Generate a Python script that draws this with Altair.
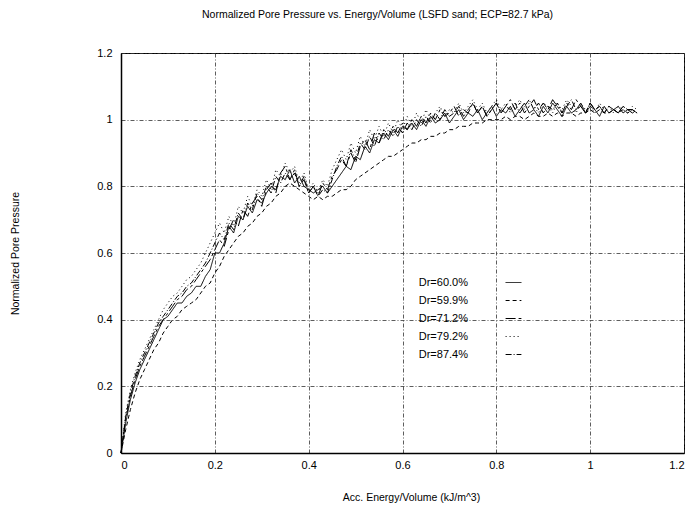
import altair as alt
import pandas as pd

X = [0.00, 0.01, 0.02, 0.03, 0.04, 0.05, 0.06, 0.07, 0.08, 0.09,
     0.10, 0.11, 0.12, 0.13, 0.14, 0.15, 0.16, 0.17, 0.18, 0.19,
     0.20, 0.21, 0.22, 0.23, 0.24, 0.25, 0.26, 0.27, 0.28, 0.29,
     0.30, 0.31, 0.32, 0.33, 0.34, 0.35, 0.36, 0.37, 0.38, 0.39,
     0.40, 0.41, 0.42, 0.43, 0.44, 0.45, 0.46, 0.47, 0.48, 0.49,
     0.50, 0.51, 0.52, 0.53, 0.54, 0.55, 0.56, 0.57, 0.58, 0.59,
     0.60, 0.61, 0.62, 0.63, 0.64, 0.65, 0.66, 0.67, 0.68, 0.69,
     0.70, 0.71, 0.72, 0.73, 0.74, 0.75, 0.76, 0.77, 0.78, 0.79,
     0.80, 0.81, 0.82, 0.83, 0.84, 0.85, 0.86, 0.87, 0.88, 0.89,
     0.90, 0.91, 0.92, 0.93, 0.94, 0.95, 0.96, 0.97, 0.98, 0.99,
     1.00, 1.01, 1.02, 1.03, 1.04, 1.05, 1.06, 1.07, 1.08, 1.09, 1.10]

DR600 = [0, 0.09, 0.16, 0.21, 0.25, 0.28, 0.31, 0.34, 0.37, 0.40, 0.41,
         0.43, 0.45, 0.45, 0.47, 0.48, 0.50, 0.50, 0.53, 0.55, 0.60,
         0.60, 0.63, 0.68, 0.66, 0.71, 0.70, 0.74, 0.72, 0.76, 0.75,
         0.78, 0.80, 0.79, 0.83, 0.82, 0.85, 0.81, 0.83, 0.80, 0.79,
         0.78, 0.79, 0.80, 0.78, 0.80, 0.82, 0.84, 0.86, 0.85, 0.89,
         0.88, 0.92, 0.90, 0.94, 0.93, 0.96, 0.94, 0.97, 0.95, 0.98,
         0.97, 0.99, 0.97, 1.00, 0.98, 1.01, 0.99, 1.00, 1.02, 0.99,
         1.01, 1.03, 1.00, 1.02, 1.01, 1.03, 1.00, 1.02, 1.04, 1.01,
         1.03, 1.02, 1.04, 1.01, 1.03, 1.05, 1.02, 1.03, 1.01, 1.04,
         1.02, 1.05, 1.03, 1.01, 1.04, 1.02, 1.03, 1.05, 1.02, 1.04,
         1.03, 1.01, 1.04, 1.02, 1.03, 1.04, 1.02, 1.03, 1.03, 1.02]

DR599 = [0, 0.07, 0.13, 0.18, 0.22, 0.25, 0.28, 0.31, 0.33, 0.36, 0.38,
         0.40, 0.41, 0.43, 0.44, 0.45, 0.46, 0.48, 0.50, 0.51, 0.54,
         0.56, 0.59, 0.61, 0.63, 0.65, 0.66, 0.68, 0.69, 0.71, 0.72,
         0.74, 0.75, 0.77, 0.78, 0.80, 0.81, 0.80, 0.79, 0.78, 0.77,
         0.76, 0.77, 0.76, 0.77, 0.77, 0.78, 0.79, 0.79, 0.80, 0.82,
         0.83, 0.84, 0.85, 0.86, 0.87, 0.88, 0.89, 0.89, 0.90, 0.91,
         0.92, 0.93, 0.93, 0.94, 0.94, 0.95, 0.95, 0.96, 0.96, 0.97,
         0.97, 0.98, 0.98, 0.98, 0.99, 0.99, 0.99, 1.00, 1.00, 1.00,
         1.00, 1.01, 1.00, 1.01, 1.01, 1.00, 1.01, 1.02, 1.01, 1.01,
         1.02, 1.01, 1.02, 1.01, 1.02, 1.02, 1.01, 1.02, 1.02, 1.03,
         1.02, 1.03, 1.02, 1.02, 1.03, 1.02, 1.03, 1.02, 1.03, 1.02]

DR712 = [0, 0.10, 0.17, 0.22, 0.26, 0.29, 0.32, 0.35, 0.38, 0.40, 0.42,
         0.44, 0.46, 0.47, 0.49, 0.50, 0.52, 0.54, 0.56, 0.58, 0.61,
         0.64, 0.62, 0.67, 0.70, 0.68, 0.73, 0.71, 0.75, 0.77, 0.74,
         0.79, 0.81, 0.78, 0.84, 0.86, 0.82, 0.85, 0.80, 0.82, 0.78,
         0.80, 0.77, 0.81, 0.79, 0.83, 0.85, 0.88, 0.86, 0.90, 0.87,
         0.92, 0.94, 0.91, 0.96, 0.93, 0.97, 0.95, 0.98, 0.96, 0.99,
         0.97, 1.00, 0.98, 1.01, 0.99, 1.02, 1.00, 1.03, 1.01, 1.02,
         1.04, 1.01, 1.03, 1.02, 1.05, 1.02, 1.04, 1.01, 1.03, 1.05,
         1.02, 1.04, 1.06, 1.03, 1.05, 1.02, 1.04, 1.06, 1.03, 1.05,
         1.03, 1.06, 1.04, 1.02, 1.05, 1.03, 1.06, 1.04, 1.02, 1.05,
         1.03, 1.04, 1.02, 1.04, 1.03, 1.02, 1.04, 1.03, 1.02, 1.03]

DR792 = [0, 0.12, 0.19, 0.24, 0.28, 0.31, 0.34, 0.37, 0.40, 0.43, 0.45,
         0.47, 0.48, 0.50, 0.52, 0.53, 0.55, 0.57, 0.60, 0.63, 0.66,
         0.69, 0.66, 0.71, 0.68, 0.74, 0.72, 0.77, 0.74, 0.79, 0.77,
         0.82, 0.79, 0.85, 0.83, 0.87, 0.84, 0.86, 0.81, 0.84, 0.79,
         0.81, 0.78, 0.82, 0.80, 0.85, 0.88, 0.91, 0.88, 0.93, 0.90,
         0.95, 0.92, 0.97, 0.94, 0.98, 0.95, 0.99, 0.96, 1.00, 0.97,
         1.01, 0.98, 1.02, 0.99, 1.03, 1.00, 1.02, 1.04, 1.01, 1.03,
         1.02, 1.05, 1.02, 1.04, 1.06, 1.03, 1.05, 1.02, 1.04, 1.06,
         1.03, 1.05, 1.02, 1.04, 1.06, 1.03, 1.05, 1.04, 1.02, 1.05,
         1.04, 1.02, 1.05, 1.03, 1.06, 1.04, 1.02, 1.05, 1.03, 1.04,
         1.02, 1.05, 1.03, 1.04, 1.02, 1.04, 1.03, 1.02, 1.04, 1.03]

DR874 = [0, 0.11, 0.18, 0.23, 0.27, 0.30, 0.33, 0.36, 0.39, 0.41, 0.43,
         0.45, 0.47, 0.48, 0.50, 0.51, 0.53, 0.55, 0.57, 0.60, 0.63,
         0.66, 0.64, 0.69, 0.67, 0.72, 0.70, 0.75, 0.73, 0.78, 0.76,
         0.80, 0.78, 0.83, 0.81, 0.84, 0.82, 0.84, 0.80, 0.83, 0.78,
         0.80, 0.77, 0.79, 0.78, 0.82, 0.86, 0.89, 0.86, 0.91, 0.88,
         0.93, 0.91, 0.95, 0.92, 0.96, 0.94, 0.97, 0.95, 0.98, 0.96,
         0.99, 0.97, 1.00, 0.98, 1.01, 0.99, 1.02, 1.00, 1.03, 1.01,
         1.02, 1.04, 1.01, 1.03, 1.05, 1.02, 1.04, 1.01, 1.03, 1.05,
         1.02, 1.04, 1.03, 1.05, 1.02, 1.04, 1.06, 1.03, 1.05, 1.02,
         1.04, 1.03, 1.05, 1.02, 1.04, 1.06, 1.03, 1.04, 1.02, 1.05,
         1.03, 1.04, 1.02, 1.04, 1.03, 1.02, 1.04, 1.03, 1.03, 1.02]

NAMES = ["Dr=60.0%", "Dr=59.9%", "Dr=71.2%", "Dr=79.2%", "Dr=87.4%"]
SERIES = [DR600, DR599, DR712, DR792, DR874]
DASHES = [[1, 0], [4, 3], [10, 3, 3, 3], [1, 3], [6, 2, 1, 2]]
X_TICKS = [0, 0.2, 0.4, 0.6, 0.8, 1, 1.2]
Y_TICKS = [0, 0.2, 0.4, 0.6, 0.8, 1, 1.2]

rows = []
for name, ys in zip(NAMES, SERIES):
    for xv, yv in zip(X, ys):
        rows.append({"x": xv, "y": yv, "series": name})
df = pd.DataFrame(rows)

FONT = "Liberation Sans"

chart = alt.Chart(df).mark_line(color="black", strokeWidth=1).encode(
    x=alt.X("x:Q",
            scale=alt.Scale(domain=[0, 1.2], nice=False),
            axis=alt.Axis(values=X_TICKS, format="~g",
                          title="Acc. Energy/Volume (kJ/m^3)",
                          titleX=290, titleY=44, titleBaseline="middle",
                          labelPadding=6)),
    y=alt.Y("y:Q",
            scale=alt.Scale(domain=[0, 1.2], nice=False),
            axis=alt.Axis(values=Y_TICKS, format="~g",
                          title="Normalized Pore Pressure",
                          titleX=-106, titleY=200, titleAngle=270,
                          titleAlign="center", titleBaseline="middle",
                          labelPadding=9)),
    strokeDash=alt.StrokeDash("series:N",
                              scale=alt.Scale(domain=NAMES, range=DASHES),
                              legend=alt.Legend(orient="none", legendX=384, legendY=221,
                                                title=None, symbolType="stroke",
                                                symbolSize=250, symbolStrokeWidth=1,
                                                symbolStrokeColor="black",
                                                labelAlign="right",
                                                labelOffset={"expr": "-54"},
                                                labelFontSize=11, labelFont=FONT,
                                                labelColor="black", rowPadding=4)),
    order=alt.Order("x:Q"),
).properties(
    width=563,
    height=400,
    title=alt.TitleParams("Normalized Pore Pressure vs. Energy/Volume (LSFD sand; ECP=82.7 kPa)",
                          fontSize=10.5, font=FONT, fontWeight="normal", color="black",
                          anchor="middle", dx=-25, offset=27),
    autosize=alt.AutoSizeParams(type="none"),
    padding={"left": 113, "top": 45, "right": 4, "bottom": 50},
    background="white",
).configure_axis(
    grid=True, gridColor="#333333", gridDash=[4, 2, 1, 2], gridWidth=0.8,
    domainColor="black", domainWidth=1.5, ticks=False,
    labelFont=FONT, labelFontSize=11, labelColor="black",
    titleFont=FONT, titleFontSize=10.5, titleFontWeight="normal", titleColor="black",
).configure_view(stroke="black", strokeWidth=1)

chart.save("out.html", embed_options={"renderer": "svg", "actions": False})
